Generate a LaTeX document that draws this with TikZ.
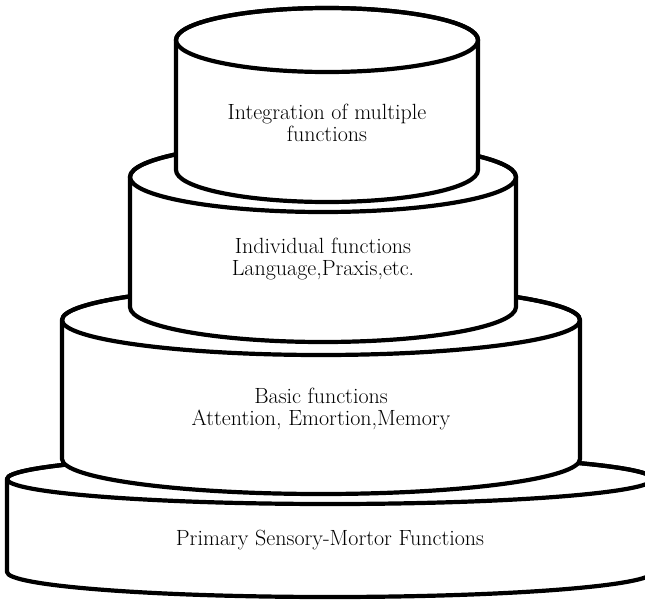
\documentclass[tikz,border=0pt]{standalone}
\usepackage{tikz}

\begin{document}
\begin{tikzpicture}[x=1pt,y=-1pt,line width=4.2pt,line join=round]
  \useasboundingbox (0,0) rectangle (645,600);
  \clip (0,0) rectangle (645,600);
  \fill[white] (0,0) rectangle (645,600);
  % tiers from bottom to top: centre x, half width, top y, bottom y, ellipse height
  \foreach \cx/\rx/\yt/\yb/\ry in {330/323/479/572/25, 321/259/320/459/35, 323/193/177/307/35, 327/151/40/170/32} {
    \filldraw[fill=white] (\cx-\rx,\yt) -- (\cx-\rx,\yb)
      arc[start angle=180, end angle=0, x radius=\rx, y radius=\ry]
      -- (\cx+\rx,\yt) arc[start angle=0, end angle=-180, x radius=\rx, y radius=\ry] -- cycle;
    \draw (\cx,\yt) ellipse [x radius=\rx, y radius=\ry];
  }
  \begin{scope}[every node/.style={align=center,font=\fontsize{22}{22}\selectfont}]
    \node (integ) at (327,123) {Integration of multiple\\functions};
    \node (indiv) at (323,259) {Individual functions\\Language,Praxis,etc.};
    \node (basic) at (321,409) {Basic functions\\Attention, Emortion,Memory};
    \node (prim) at (330,540) {Primary Sensory-Mortor Functions};
  \end{scope}
\end{tikzpicture}
\end{document}
